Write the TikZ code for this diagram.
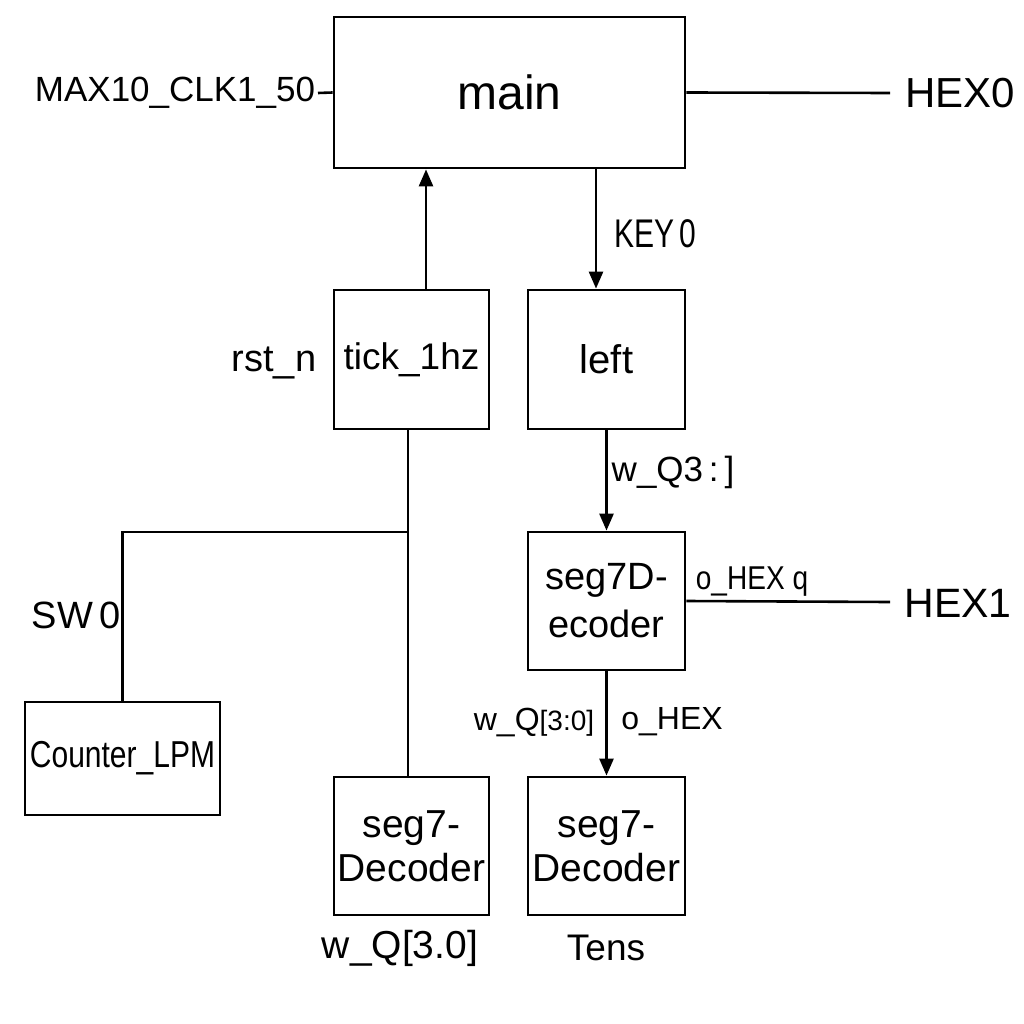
\documentclass[tikz,border=0pt]{standalone}
\usepackage{fontspec}
\usepackage{graphicx}
\setmainfont{Liberation Sans}
\usetikzlibrary{arrows.meta}
\newcommand\fsz[1]{\fontsize{#1}{#1}\selectfont}
\newcommand\fsb[2]{\fontsize{#1}{#2}\selectfont}
\begin{document}
\begin{tikzpicture}[x=1pt,y=-1pt,
  blk/.style={draw, line width=2.8pt, inner sep=0pt, align=center, anchor=center},
  wire/.style={line width=2.6pt},
  arr/.style={wire, -{Triangle[length=17pt,width=14pt]}},
  lbl/.style={inner sep=0pt, anchor=center, align=center}]
\useasboundingbox (0,0) rectangle (1024,1024);
% blocks
\node[blk, minimum width=351pt, minimum height=151pt, font=\fsz{48}] (main) at (509.5,92.5) {main};
\node[blk, minimum width=155pt, minimum height=139pt, font=\fsz{37}] (tick) at (411.5,359.5) {\raisebox{-3pt}{tick\_1hz}};
\node[blk, minimum width=157pt, minimum height=139pt, font=\fsz{40}] (left) at (606.5,359.5) {left};
\node[blk, minimum width=157pt, minimum height=138pt, font=\fsb{38}{48}] (segd) at (606.5,601) {seg7D-\\ecoder};
\node[blk, minimum width=195pt, minimum height=113pt, font=\fsz{37.5}] (cnt) at (122.5,758.5) {\raisebox{-4pt}{\scalebox{0.8}[1]{Counter\_LPM}}};
\node[blk, minimum width=155pt, minimum height=138pt, font=\fsb{39}{44}] (dec1) at (411.5,846) {seg7-\\Decoder};
\node[blk, minimum width=157pt, minimum height=138pt, font=\fsb{39}{44}] (dec2) at (606.5,846) {seg7-\\Decoder};
% labels
\node[lbl] (clk) at (175,93) {\fsz{35}MAX10\_CLK1\_50};
\node[lbl] (hex0) at (960,93) {\fsz{42}HEX0};
\node[lbl] (hex1) at (958,603) {\fsz{41}HEX1};
\node[lbl] (key0) at (655,234) {\fsz{40}\scalebox{0.75}[1]{KEY\,0}};
\node[lbl] (rst) at (274,363) {\fsz{38}rst\_n};
\node[lbl] (wq3) at (673,472) {\fsz{35}w\_Q3\,:\,]};
\node[lbl] (ohexq) at (752,582) {\fsz{33}\scalebox{0.85}[1]{o\_HEX q}};
\node[lbl] (wq30) at (534,722) {\fsz{32}w\_Q{\fsz{28}[3:0]}};
\node[lbl] (ohex) at (672,722) {\fsz{32}o\_HEX};
\node[lbl] (sw0) at (76,615) {\fsz{38}SW\,0};
\node[lbl] (wq) at (400,948) {\fsz{39}w\_Q[3.0]};
\node[lbl] (tens) at (606,948) {\fsz{37}Tens};
% connectors
\coordinate (hex0end) at (890,93);
\coordinate (hex1end) at (890,602);
\coordinate (clkend) at (318,93);
\draw[wire] (clkend) -- (main.west);
\draw[wire] (main.east) -- (hex0end);
\draw[arr] ([xshift=14.5pt]tick.north) -- ([xshift=-83.5pt]main.south);
\draw[arr] ([xshift=86.5pt]main.south) -- ([xshift=-10.5pt]left.north);
\draw[arr] (left.south) -- (segd.north);
\draw[wire] (segd.east) -- (hex1end);
\draw[arr] (segd.south) -- (dec2.north);
\coordinate (junc) at (408,532);
\draw[wire] ([xshift=-3.5pt]tick.south) -- ([xshift=-3.5pt]dec1.north);
\draw[wire] (junc) -| (cnt.north);
\end{tikzpicture}
\end{document}
